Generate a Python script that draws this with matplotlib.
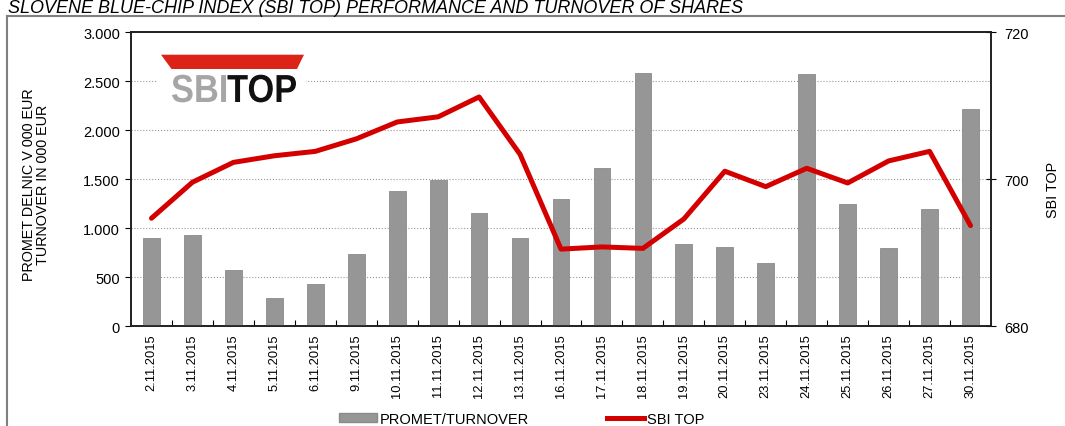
import numpy as np
import matplotlib.pyplot as plt
from matplotlib.patches import Polygon, Rectangle, Patch, PathPatch
from matplotlib.lines import Line2D
from matplotlib.textpath import TextPath
from matplotlib.font_manager import FontProperties
from matplotlib.transforms import Affine2D

plt.rcParams['font.family'] = ['Liberation Sans', 'DejaVu Sans']

dates = ["2.11.2015", "3.11.2015", "4.11.2015", "5.11.2015", "6.11.2015",
         "9.11.2015", "10.11.2015", "11.11.2015", "12.11.2015", "13.11.2015",
         "16.11.2015", "17.11.2015", "18.11.2015", "19.11.2015", "20.11.2015",
         "23.11.2015", "24.11.2015", "25.11.2015", "26.11.2015", "27.11.2015",
         "30.11.2015"]
turnover = [898, 929, 574, 292, 435, 738, 1378, 1493, 1159, 898,
            1299, 1612, 2585, 837, 813, 649, 2578, 1252, 802, 1197, 2221]
sbitop = [694.7, 699.6, 702.3, 703.2, 703.8, 705.5, 707.8, 708.5, 711.2, 703.4,
          690.5, 690.8, 690.6, 694.6, 701.1, 699.0, 701.5, 699.5, 702.5, 703.8, 693.7]

W, H = 1065, 427
fig = plt.figure(figsize=(W / 100, H / 100), dpi=100)
ax = fig.add_axes([131 / W, 1 - 327.3 / H, 860 / W, 294 / H])
ax2 = ax.twinx()

x = np.arange(len(dates))
ax.bar(x, turnover, width=0.41, color='#969696', edgecolor='#8a8a8a', linewidth=0.6, zorder=3)
ax2.plot(x, sbitop, color='#d40000', lw=3.6, solid_capstyle='round', zorder=4)

ax.set_xlim(-0.5, len(dates) - 0.5)
ax.set_ylim(0, 3000)
ax2.set_ylim(680, 720)
ax.set_yticks(np.arange(0, 3001, 500))
ax.set_yticklabels(['0', '500', '1.000', '1.500', '2.000', '2.500', '3.000'])
ax2.set_yticks([680, 700, 720])

ax.yaxis.grid(True, linestyle=':', color='#999999', lw=0.8, zorder=0)
ax.set_axisbelow(True)

# ticks between categories, labels at the centres
ax.set_xticks(x[:-1] + 0.5)
ax.set_xticklabels([])
ax.set_xticks(x, minor=True)
ax.set_xticklabels(dates, minor=True, rotation=90, fontsize=9.3)
ax.tick_params(axis='x', which='major', direction='in', length=4, width=0.8)
ax.tick_params(axis='x', which='minor', length=0, pad=5)
ax.tick_params(axis='y', direction='out', length=4, width=0.8, labelsize=10.5, pad=4)
ax2.tick_params(axis='y', direction='inout', length=7, width=0.8, labelsize=10.5, pad=6)

for a in (ax, ax2):
    for s in a.spines.values():
        s.set_linewidth(1.2)
        s.set_color('#202020')

fig.text(36 / W, 1 - 185 / H, "PROMET DELNIC V 000 EUR\nTURNOVER IN 000 EUR",
         rotation=90, ha='center', va='center', fontsize=10.4, linespacing=1.0)
fig.text(1053 / W, 1 - 190 / H, "SBI TOP", rotation=90, ha='center', va='center', fontsize=10.4)

fig.text(8 / W, 1 - 13 / H, "SLOVENE BLUE-CHIP INDEX (SBI TOP) PERFORMANCE AND TURNOVER OF SHARES",
         style='italic', fontsize=13, ha='left', va='baseline')

# outer frame
fig.add_artist(Line2D([7 / W, 1], [1 - 17 / H, 1 - 17 / H], color='#808080', lw=1.5))
fig.add_artist(Line2D([7 / W, 7 / W], [0, 1 - 17 / H], color='#808080', lw=1.5))

# logo
fig.add_artist(Rectangle((158 / W, 1 - 110 / H), 148 / W, 58 / H, facecolor='white',
                         edgecolor='none', transform=fig.transFigure, zorder=5))
trap = [(161, 55.7), (304, 55.7), (297, 70), (171.5, 70)]
fig.add_artist(Polygon([(px / W, 1 - py / H) for px, py in trap], closed=True,
                       facecolor='#dc2318', edgecolor='none', transform=fig.transFigure, zorder=6))
fp = FontProperties(family='Liberation Sans', weight='bold')
p_sbi = TextPath((0, 0), "SBI", size=1, prop=fp)
p_top = TextPath((p_sbi.get_extents().x1 + 0.03, 0), "TOP", size=1, prop=fp)
ext0, ext1 = p_sbi.get_extents(), p_top.get_extents()
sx = (296 - 172) / (ext1.x1 - ext0.x0)
sy = (103 - 75) / 0.716
tr = Affine2D().translate(-ext0.x0, 0).scale(sx, sy).translate(172, H - 103)
fig.add_artist(PathPatch(p_sbi, transform=tr, facecolor='#a6a6a6', edgecolor='none', zorder=7))
fig.add_artist(PathPatch(p_top, transform=tr, facecolor='#111111', edgecolor='none', zorder=7))

handles = [Patch(facecolor='#969696', edgecolor='#8a8a8a'),
           Line2D([], [], color='#d40000', lw=3.6)]
fig.legend(handles, ["PROMET/TURNOVER", "SBI TOP"], loc='center', ncol=2,
           bbox_to_anchor=(522 / W, 1 - 420 / H), frameon=False, fontsize=10.5,
           handlelength=2.6, handletextpad=0.2, columnspacing=5.3, handleheight=0.6)

fig.savefig("out.png", dpi=100)
